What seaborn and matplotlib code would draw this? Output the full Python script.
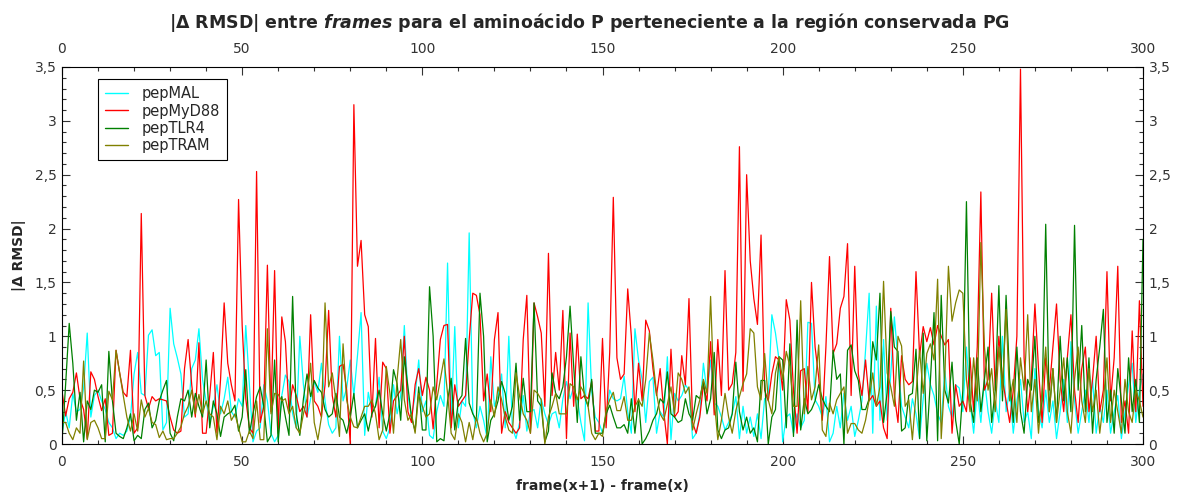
import numpy as np
import pandas as pd
import matplotlib
matplotlib.use("Agg")
import matplotlib.pyplot as plt
from matplotlib.ticker import MultipleLocator, FuncFormatter
import seaborn as sns

# |Δ RMSD| between consecutive frames, one value per frame step (0..300)
pepMAL = [
    0.10, 0.30, 0.15, 0.47, 0.30, 0.32, 0.52, 1.03, 0.25, 0.45,
    0.50, 0.40, 0.32, 0.20, 0.15, 0.05, 0.10, 0.08, 0.12, 0.25,
    0.65, 0.85, 0.47, 0.45, 1.01, 1.06, 0.82, 0.85, 0.13, 0.20,
    1.26, 0.93, 0.80, 0.65, 0.25, 0.28, 0.70, 0.78, 1.07, 0.60,
    0.40, 0.20, 0.35, 0.55, 0.28, 0.42, 0.62, 0.30, 0.25, 0.42,
    0.35, 1.10, 0.55, 0.02, 0.12, 0.15, 0.55, 0.40, 0.10, 0.02,
    0.08, 0.45, 0.64, 0.58, 0.28, 0.15, 1.00, 0.55, 0.25, 0.42,
    0.58, 0.48, 0.75, 0.40, 0.18, 0.10, 0.15, 1.00, 0.40, 0.52,
    0.78, 0.45, 0.82, 1.22, 0.08, 0.48, 0.30, 0.35, 0.62, 0.12,
    0.05, 0.15, 0.55, 0.28, 0.45, 1.10, 0.45, 0.25, 0.45, 0.78,
    0.30, 0.40, 0.08, 0.05, 0.30, 0.45, 0.35, 1.68, 0.20, 1.09,
    0.15, 0.40, 0.35, 1.96, 0.30, 0.15, 0.35, 0.22, 0.05, 0.81,
    0.35, 0.45, 0.65, 0.15, 1.00, 0.15, 0.05, 0.20, 0.45, 0.12,
    0.30, 0.32, 0.15, 0.42, 0.28, 0.18, 0.28, 0.30, 0.15, 0.42,
    0.58, 0.42, 0.53, 0.42, 0.20, 0.03, 1.31, 0.48, 0.25, 0.20,
    0.10, 0.25, 0.50, 0.42, 0.40, 0.42, 0.63, 0.30, 0.10, 1.07,
    0.78, 0.60, 0.20, 0.58, 0.62, 0.10, 0.30, 0.25, 0.81, 0.04,
    0.47, 0.40, 0.45, 0.55, 0.50, 0.05, 0.10, 0.28, 0.75, 0.48,
    0.78, 0.38, 0.35, 0.25, 0.13, 0.20, 0.28, 0.44, 0.05, 0.35,
    0.10, 0.25, 0.07, 0.28, 0.05, 0.42, 0.45, 1.20, 1.03, 0.78,
    0.02, 0.25, 0.28, 0.10, 0.28, 0.15, 0.22, 1.13, 1.12, 0.41,
    0.35, 0.25, 0.44, 0.02, 0.10, 0.35, 0.15, 0.47, 0.22, 0.35,
    0.07, 0.22, 0.40, 0.87, 1.40, 0.10, 1.28, 0.22, 0.97, 0.22,
    0.65, 1.18, 0.78, 0.35, 0.25, 0.15, 0.42, 0.28, 0.05, 0.42,
    0.75, 0.55, 0.45, 0.28, 0.20, 0.68, 0.35, 0.25, 0.55, 0.52,
    0.30, 0.90, 0.40, 0.10, 0.50, 0.20, 0.60, 0.30, 0.10, 0.40,
    0.20, 1.00, 0.30, 0.50, 0.10, 0.40, 0.60, 0.20, 0.30, 0.05,
    0.70, 0.30, 0.15, 0.50, 0.20, 0.40, 0.05, 0.30, 0.60, 0.20,
    0.95, 0.40, 0.10, 0.30, 0.50, 0.20, 0.60, 0.10, 0.35, 0.20,
    0.50, 0.10, 0.30, 0.45, 0.05, 0.30, 0.55, 0.75, 0.20, 0.50,
    0.65,
]

pepMyD88 = [
    0.49, 0.26, 0.42, 0.48, 0.66, 0.42, 0.32, 0.05, 0.67, 0.60,
    0.44, 0.31, 0.42, 0.08, 0.10, 0.87, 0.66, 0.48, 0.44, 0.87,
    0.10, 0.15, 2.14, 0.45, 0.33, 0.44, 0.40, 0.42, 0.41, 0.40,
    0.25, 0.13, 0.10, 0.12, 0.70, 0.97, 0.55, 0.25, 0.94, 0.10,
    0.10, 0.45, 0.85, 0.10, 0.60, 1.31, 0.75, 0.55, 0.40, 2.27,
    1.10, 0.42, 0.15, 0.10, 2.53, 0.20, 0.35, 1.66, 0.30, 1.61,
    0.10, 1.18, 0.95, 0.30, 0.55, 0.45, 0.30, 0.35, 0.25, 1.20,
    0.40, 0.35, 0.25, 0.55, 1.24, 0.45, 0.25, 0.72, 0.74, 0.50,
    0.00, 3.15, 1.65, 1.89, 1.20, 1.09, 0.25, 0.98, 0.15, 0.76,
    0.70, 0.10, 0.40, 0.45, 0.50, 1.00, 0.30, 0.20, 0.55, 0.70,
    0.45, 0.62, 0.50, 0.14, 0.55, 0.97, 1.10, 1.11, 0.15, 0.55,
    0.35, 0.40, 0.45, 0.97, 1.40, 1.38, 1.20, 0.40, 0.65, 0.30,
    0.97, 1.22, 0.10, 0.30, 0.20, 0.15, 0.10, 0.15, 0.97, 1.38,
    0.10, 1.31, 1.18, 1.03, 0.35, 1.77, 0.45, 0.85, 0.50, 1.24,
    0.05, 1.03, 0.35, 1.02, 0.42, 0.45, 0.42, 0.58, 0.12, 0.12,
    0.98, 0.15, 0.85, 2.29, 0.80, 0.60, 0.65, 1.44, 1.00, 0.30,
    0.75, 0.40, 1.15, 1.05, 0.70, 0.45, 0.70, 0.30, 0.00, 0.88,
    0.25, 0.30, 0.82, 0.55, 1.35, 0.20, 0.10, 0.25, 0.55, 0.40,
    0.95, 0.27, 0.97, 0.45, 1.61, 0.50, 0.56, 0.85, 2.76, 0.49,
    2.50, 1.70, 1.35, 1.11, 1.94, 0.50, 0.40, 0.65, 0.81, 0.78,
    0.50, 1.34, 1.15, 0.50, 0.10, 0.68, 0.70, 0.30, 1.50, 0.90,
    0.62, 0.22, 0.90, 1.74, 0.84, 0.93, 1.26, 1.37, 1.86, 0.45,
    1.65, 0.65, 0.45, 0.78, 0.40, 0.45, 0.35, 0.40, 0.15, 0.05,
    1.26, 0.45, 0.20, 0.82, 0.60, 0.55, 0.58, 1.60, 0.82, 1.09,
    0.95, 1.08, 0.92, 1.10, 1.00, 0.92, 0.97, 0.10, 0.55, 0.35,
    0.40, 0.30, 0.80, 0.30, 0.90, 2.34, 0.50, 0.60, 1.40, 0.50,
    1.00, 0.60, 0.40, 0.20, 0.50, 1.00, 3.48, 0.80, 0.30, 0.60,
    1.30, 0.70, 0.20, 0.80, 0.50, 0.90, 1.30, 0.60, 0.30, 0.80,
    1.20, 0.50, 0.20, 0.70, 0.90, 0.30, 0.60, 1.00, 0.30, 0.50,
    1.60, 0.40, 0.80, 1.65, 0.20, 0.40, 0.10, 1.05, 0.30, 1.33,
    0.35,
]

pepTLR4 = [
    0.02, 0.55, 1.12, 0.75, 0.22, 0.48, 0.02, 0.40, 0.32, 0.50,
    0.48, 0.55, 0.02, 0.86, 0.40, 0.10, 0.07, 0.05, 0.15, 0.28,
    0.03, 0.08, 0.05, 0.32, 0.38, 0.15, 0.22, 0.40, 0.50, 0.59,
    0.10, 0.03, 0.25, 0.42, 0.40, 0.50, 0.25, 0.47, 0.35, 0.25,
    0.78, 0.15, 0.40, 0.28, 0.07, 0.25, 0.28, 0.30, 0.36, 0.12,
    0.25, 0.69, 0.10, 0.28, 0.44, 0.53, 0.35, 0.02, 0.08, 0.78,
    0.02, 0.44, 0.25, 0.08, 1.37, 0.28, 0.08, 0.42, 0.65, 0.44,
    0.59, 0.52, 0.48, 0.32, 0.25, 0.28, 0.47, 0.25, 0.22, 0.10,
    0.25, 0.47, 0.15, 0.22, 0.28, 0.12, 0.28, 0.35, 0.50, 0.28,
    0.12, 0.28, 0.69, 0.56, 0.22, 0.81, 0.53, 0.25, 0.12, 0.53,
    0.13, 0.13, 1.46, 1.00, 0.02, 0.05, 0.03, 0.40, 0.61, 0.13,
    0.40, 0.45, 0.98, 0.38, 0.28, 0.22, 1.40, 1.00, 0.02, 0.22,
    0.28, 0.40, 0.58, 0.47, 0.22, 0.35, 0.75, 0.22, 0.61, 0.30,
    0.30, 1.31, 0.40, 0.35, 0.02, 0.12, 0.66, 0.47, 0.42, 0.53,
    0.81, 1.28, 0.72, 0.20, 0.81, 0.44, 0.35, 0.60, 0.10, 0.10,
    0.10, 0.28, 0.36, 0.25, 0.15, 0.15, 0.18, 0.10, 0.42, 0.10,
    0.42, 0.00, 0.05, 0.12, 0.22, 0.28, 0.42, 0.38, 0.67, 0.28,
    0.25, 0.20, 0.22, 0.42, 0.28, 0.22, 0.45, 0.42, 0.58, 0.28,
    0.42, 0.85, 0.13, 0.05, 0.13, 0.15, 0.28, 0.76, 0.30, 0.13,
    0.25, 0.10, 0.15, 0.02, 0.59, 0.59, 0.00, 0.25, 0.32, 0.81,
    0.78, 0.15, 0.93, 0.07, 1.15, 0.13, 0.42, 0.28, 0.32, 0.40,
    0.55, 0.42, 0.35, 0.30, 0.87, 0.60, 0.65, 0.00, 0.87, 0.92,
    0.68, 0.59, 0.32, 0.32, 0.42, 0.95, 0.78, 1.40, 0.20, 0.48,
    1.23, 0.90, 0.86, 0.12, 0.15, 0.45, 0.47, 0.88, 0.05, 1.03,
    0.03, 0.59, 1.22, 0.03, 1.38, 0.50, 0.38, 0.76, 0.22, 0.00,
    0.50, 2.25, 0.40, 0.20, 0.80, 0.30, 0.60, 0.90, 0.20, 0.50,
    1.47, 0.40, 1.38, 0.60, 0.20, 0.90, 0.30, 0.10, 0.60, 0.50,
    1.00, 0.20, 0.40, 2.04, 0.30, 0.70, 0.20, 1.00, 0.40, 0.80,
    0.30, 2.03, 0.50, 1.10, 0.30, 0.80, 0.10, 0.60, 0.90, 1.25,
    0.20, 0.50, 0.10, 0.70, 0.40, 0.10, 0.80, 0.30, 0.60, 0.20,
    1.90,
]

pepTRAM = [
    0.20, 0.20, 0.10, 0.04, 0.15, 0.10, 0.77, 0.04, 0.20, 0.22,
    0.15, 0.05, 0.05, 0.49, 0.41, 0.87, 0.66, 0.45, 0.25, 0.12,
    0.28, 0.12, 0.41, 0.25, 0.33, 0.20, 0.18, 0.06, 0.12, 0.04,
    0.05, 0.05, 0.10, 0.16, 0.28, 0.35, 0.50, 0.28, 0.46, 0.28,
    0.40, 0.28, 0.25, 0.04, 0.35, 0.28, 0.40, 0.22, 0.28, 0.15,
    0.02, 0.02, 0.12, 0.05, 0.40, 0.04, 0.04, 1.07, 0.28, 0.47,
    0.46, 0.40, 0.42, 0.28, 0.35, 0.15, 0.10, 0.28, 0.42, 0.75,
    0.20, 0.04, 0.25, 1.31, 0.53, 0.66, 0.41, 0.07, 0.93, 0.41,
    0.25, 0.16, 0.15, 0.25, 0.35, 0.35, 0.41, 0.28, 0.04, 0.13,
    0.72, 0.47, 0.10, 0.60, 0.97, 0.41, 0.22, 0.28, 0.10, 0.47,
    0.35, 0.25, 0.28, 0.53, 0.41, 0.60, 0.79, 0.47, 0.10, 0.04,
    0.28, 0.20, 0.02, 0.20, 0.04, 0.25, 0.10, 0.02, 0.10, 0.41,
    0.25, 0.53, 0.41, 0.25, 0.13, 0.10, 0.66, 0.44, 0.28, 0.22,
    0.10, 0.50, 0.47, 0.41, 0.00, 0.25, 0.35, 0.47, 0.28, 0.28,
    0.28, 0.56, 0.53, 0.41, 0.53, 0.47, 0.35, 0.10, 0.04, 0.10,
    0.07, 0.31, 0.41, 0.48, 0.31, 0.31, 0.44, 0.22, 0.22, 0.35,
    0.41, 0.35, 0.60, 1.03, 0.78, 0.47, 0.28, 0.22, 0.37, 0.53,
    0.28, 0.66, 0.60, 0.47, 0.53, 0.13, 0.28, 0.41, 0.60, 0.47,
    1.37, 0.41, 0.04, 0.22, 0.47, 0.25, 0.10, 0.31, 0.44, 0.56,
    0.65, 1.07, 1.03, 0.53, 0.41, 0.84, 0.41, 0.28, 0.66, 0.81,
    0.60, 0.86, 0.72, 0.35, 0.35, 1.33, 0.28, 0.72, 0.41, 0.53,
    0.92, 0.13, 0.07, 0.38, 0.28, 0.41, 0.47, 0.53, 0.10, 0.19,
    0.19, 0.13, 0.10, 0.22, 0.41, 0.66, 0.35, 0.53, 1.51, 0.66,
    0.53, 0.35, 1.00, 0.91, 0.35, 0.41, 0.04, 0.47, 0.87, 0.47,
    0.84, 0.93, 0.78, 1.53, 0.05, 0.62, 1.65, 1.14, 1.31, 1.43,
    1.40, 0.60, 0.30, 0.80, 0.40, 1.87, 0.90, 0.50, 0.70, 0.30,
    0.90, 0.50, 1.25, 0.40, 0.60, 0.20, 0.80, 0.50, 1.20, 0.30,
    0.60, 0.10, 0.50, 0.90, 0.30, 0.70, 0.20, 0.50, 0.80, 0.30,
    0.10, 0.60, 0.90, 0.40, 0.20, 0.70, 0.30, 0.50, 0.10, 0.40,
    0.80, 0.20, 0.50, 0.30, 0.10, 0.60, 0.30, 0.20, 0.50, 0.40,
    0.25,
]

series_names = ["pepMAL", "pepMyD88", "pepTLR4", "pepTRAM"]
series_values = [pepMAL, pepMyD88, pepTLR4, pepTRAM]
series_colors = ["#00ffff", "#ff0000", "#008000", "#808000"]

x_ticks = [0, 50, 100, 150, 200, 250, 300]
y_ticks = [0, 0.5, 1, 1.5, 2, 2.5, 3, 3.5]

frames = []
for name, vals in zip(series_names, series_values):
    frames.append(pd.DataFrame({"frame": np.arange(len(vals)),
                                "drmsd": vals,
                                "peptide": name}))
df = pd.concat(frames, ignore_index=True)

sns.set_style("ticks")
plt.rcParams["font.family"] = ["DejaVu Sans"]
plt.rcParams["mathtext.fontset"] = "dejavusans"

fig = plt.figure(figsize=(11.79, 4.92), dpi=100)
ax = fig.add_axes([62 / 1179, 1 - 444 / 492, 1081 / 1179, 377 / 492])

sns.lineplot(data=df, x="frame", y="drmsd", hue="peptide",
             hue_order=series_names,
             palette=dict(zip(series_names, series_colors)),
             linewidth=0.9, ax=ax, legend=True)

ax.set_xlim(0, 300)
ax.set_ylim(0, 3.5)
ax.set_xticks(x_ticks)
ax.set_yticks(y_ticks)
ax.xaxis.set_minor_locator(MultipleLocator(10))
ax.yaxis.set_minor_locator(MultipleLocator(0.1))

comma = FuncFormatter(lambda v, pos: ("%g" % v).replace(".", ","))
ax.xaxis.set_major_formatter(comma)
ax.yaxis.set_major_formatter(comma)

ax.tick_params(which="both", direction="in", top=True, right=True,
               labeltop=True, labelright=True, colors="#333333",
               labelsize=10, width=0.8)
ax.tick_params(which="major", length=6)
ax.tick_params(which="minor", length=3)
ax.tick_params(axis="x", which="major", pad=8)
ax.tick_params(axis="y", which="major", pad=4)
for sp in ax.spines.values():
    sp.set_linewidth(0.8)
    sp.set_color("black")

ax.set_xlabel("frame(x+1) - frame(x)", fontsize=10, fontweight="bold",
              labelpad=7)
ax.set_ylabel("|Δ RMSD|", fontsize=10, fontweight="bold", labelpad=6)

fig.text(0.5, 1 - 22 / 492,
         r"|Δ RMSD| entre $\mathbfit{frames}$ para el aminoácido P perteneciente a la región conservada PG",
         ha="center", va="center", fontsize=12.5, fontweight="bold")

leg = ax.legend(loc="upper left", bbox_to_anchor=(0.033, 0.968),
                frameon=True, fancybox=False, fontsize=10.5,
                handlelength=1.6, borderpad=0.5, labelspacing=0.15,
                handletextpad=0.9, borderaxespad=0)
leg.get_frame().set_edgecolor("black")
leg.get_frame().set_linewidth(0.8)
leg.get_frame().set_alpha(1)
for line in leg.get_lines():
    line.set_linewidth(1.0)

fig.savefig("out.png", dpi=100)
